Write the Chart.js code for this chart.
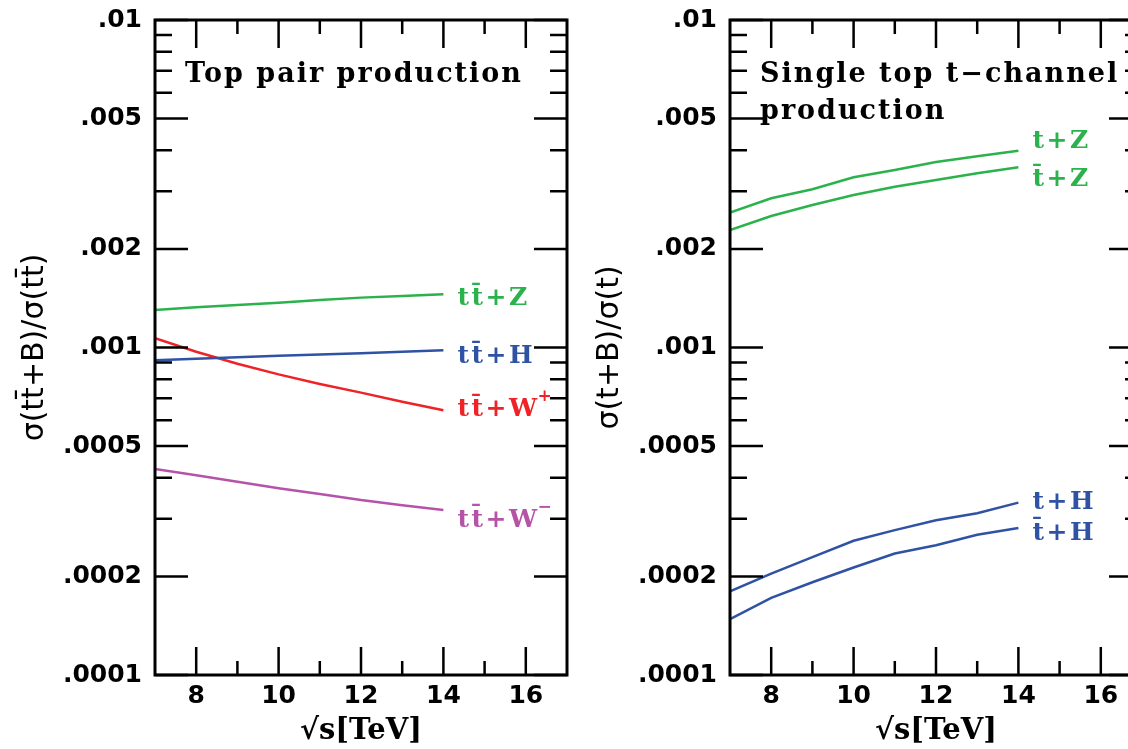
<!DOCTYPE html>
<html>
<head>
<meta charset="utf-8">
<script src="https://cdn.jsdelivr.net/npm/chart.js@4"></script>
<style>
  html, body { margin: 0; padding: 0; background: #fff; overflow: hidden; }
  #wrap { position: relative; width: 1128px; height: 749px; overflow: hidden; }
  canvas { position: absolute; top: 0; }
  #left { left: 0; }
  #right { left: 575px; }
</style>
</head>
<body>
<div id="wrap">
  <canvas id="left" width="600" height="749"></canvas>
  <canvas id="right" width="600" height="749"></canvas>
</div>
<script>
// sqrt(s) in TeV
const sqrtS = [7, 8, 9, 10, 11, 12, 13, 14];

// top pair production, sigma(tt+B)/sigma(tt)
const ttZ  = [0.001302, 0.001326, 0.001349, 0.001370, 0.001396, 0.001420, 0.001437, 0.001453];
const ttH  = [0.000914, 0.000924, 0.000933, 0.000943, 0.000952, 0.000961, 0.000970, 0.000980];
const ttWp = [0.001067, 0.000971, 0.000892, 0.000828, 0.000774, 0.000728, 0.000683, 0.000643];
const ttWm = [0.000426, 0.000407, 0.000389, 0.000372, 0.000357, 0.000342, 0.000330, 0.000319];

// single top t-channel, sigma(t+B)/sigma(t)
const tZ    = [0.002580, 0.002855, 0.003041, 0.003310, 0.003483, 0.003685, 0.003836, 0.003991];
const tbarZ = [0.002285, 0.002521, 0.002723, 0.002921, 0.003097, 0.003246, 0.003402, 0.003549];
const tH    = [0.000180, 0.000204, 0.000229, 0.000257, 0.000277, 0.000297, 0.000312, 0.000336];
const tbarH = [0.000148, 0.000172, 0.000192, 0.000213, 0.000235, 0.000249, 0.000268, 0.000281];

// axes
const yTickValues = [0.0001, 0.0002, 0.0005, 0.001, 0.002, 0.005, 0.01];
const yTickLabels = ['.0001', '.0002', '.0005', '.001', '.002', '.005', '.01'];
const yMinorTicks = [0.0003, 0.0004, 0.0006, 0.0007, 0.0008, 0.0009,
                     0.003, 0.004, 0.006, 0.007, 0.008, 0.009];
const xTickValues = [8, 10, 12, 14, 16];
const xTickLabels = ['8', '10', '12', '14', '16'];
const xMinorTicks = [9, 11, 13, 15];

const GREEN = '#2bb24c', BLUE = '#2f52a4', RED = '#ee2227', MAGENTA = '#b553a9';
const NOTE_FONT = '"DejaVu Serif"';

// frame with inward ticks on four sides, plus the text notes
const frame = {
  id: 'frame',
  afterDraw(chart, args, opts) {
    const { ctx, chartArea: a, scales: { x, y } } = chart;
    ctx.save();
    ctx.strokeStyle = '#000';
    ctx.lineWidth = 2.5;
    ctx.beginPath();
    yTickValues.concat(yMinorTicks).forEach(v => {
      const len = yTickValues.includes(v) ? 33 : 17;
      const py = y.getPixelForValue(v);
      ctx.moveTo(a.left, py); ctx.lineTo(a.left + len, py);
      ctx.moveTo(a.right, py); ctx.lineTo(a.right - len, py);
    });
    xTickValues.concat(xMinorTicks).forEach(v => {
      const len = xTickValues.includes(v) ? 28 : 14;
      const px = x.getPixelForValue(v);
      ctx.moveTo(px, a.bottom); ctx.lineTo(px, a.bottom - len);
      ctx.moveTo(px, a.top); ctx.lineTo(px, a.top + len);
    });
    ctx.stroke();
    ctx.lineWidth = 3;
    ctx.strokeRect(a.left, a.top, a.right - a.left, a.bottom - a.top);

    // panel title
    ctx.fillStyle = '#000';
    ctx.textBaseline = 'alphabetic';
    ctx.font = 'bold 27px ' + NOTE_FONT;
    ctx.letterSpacing = '2px';
    opts.title.forEach((line, i) => {
      ctx.fillText(line, a.left + 30, a.top + 62 + i * 37);
    });

    // curve labels at the end of each line
    const last = sqrtS.length - 1;
    opts.labels.forEach(l => {
      const ds = chart.data.datasets[l.series];
      const px = x.getPixelForValue(sqrtS[last]) + 14;
      const py = y.getPixelForValue(ds.data[last].y) + l.dy;
      ctx.fillStyle = ds.borderColor;
      ctx.font = 'bold 25px ' + NOTE_FONT;
      ctx.letterSpacing = '2.5px';
      ctx.fillText(l.text, px, py);
      if (l.sup) {
        const w = ctx.measureText(l.text).width;
        ctx.font = 'bold 17px ' + NOTE_FONT;
        ctx.letterSpacing = '0px';
        ctx.fillText(l.sup, px + w - 2, py - 15);
      }
    });
    ctx.restore();
  }
};

function makeChart(id, series, yTitle, notes) {
  return new Chart(document.getElementById(id), {
    type: 'line',
    data: {
      datasets: series.map(s => ({
        data: sqrtS.map((e, i) => ({ x: e, y: s.values[i] })),
        borderColor: s.color,
        borderWidth: 2.5,
        pointRadius: 0,
        tension: 0,
        fill: false
      }))
    },
    options: {
      responsive: false,
      animation: false,
      devicePixelRatio: 1,
      layout: { padding: { top: 20, right: 33, left: 0, bottom: 0 } },
      plugins: {
        legend: { display: false },
        tooltip: { enabled: false },
        frame: notes
      },
      scales: {
        x: {
          type: 'linear', min: 7, max: 17,
          grid: { display: false, drawTicks: false },
          border: { display: false },
          afterBuildTicks: sc => { sc.ticks = xTickValues.map(v => ({ value: v })); },
          afterFit: sc => { sc.height = 74; sc.paddingLeft = 0; sc.paddingRight = 0; },
          ticks: {
            autoSkip: false, maxRotation: 0, padding: 6, color: '#000',
            font: { family: 'DejaVu Sans', weight: 'bold', size: 25 },
            callback: (v, i) => xTickLabels[i]
          },
          title: {
            display: true, text: '√s[TeV]', color: '#000',
            font: { family: 'DejaVu Serif', weight: 'bold', size: 29 },
            padding: { top: 0, bottom: 0 }
          }
        },
        y: {
          type: 'logarithmic', min: 0.0001, max: 0.01,
          grid: { display: false, drawTicks: false },
          border: { display: false },
          afterBuildTicks: sc => { sc.ticks = yTickValues.map(v => ({ value: v })); },
          afterFit: sc => { sc.width = 155; sc.paddingTop = 0; sc.paddingBottom = 0; },
          ticks: {
            autoSkip: false, padding: 13, color: '#000',
            font: { family: 'DejaVu Sans', weight: 'bold', size: 25 },
            callback: (v, i) => yTickLabels[i]
          },
          title: {
            display: true, text: yTitle, color: '#000',
            font: { family: 'DejaVu Sans', size: 30 },
            padding: { top: 17, bottom: 0 }
          }
        }
      }
    },
    plugins: [frame]
  });
}

makeChart('left', [
  { values: ttZ, color: GREEN },
  { values: ttH, color: BLUE },
  { values: ttWp, color: RED },
  { values: ttWm, color: MAGENTA }
], 'σ(tt\u0304+B)/σ(tt\u0304)', {
  title: ['Top pair production'],
  labels: [
    { series: 0, text: 'tt\u0304+Z', dy: 11 },
    { series: 1, text: 'tt\u0304+H', dy: 13 },
    { series: 2, text: 'tt\u0304+W', sup: '+', dy: 6 },
    { series: 3, text: 'tt\u0304+W', sup: '−', dy: 17 }
  ]
});

makeChart('right', [
  { values: tZ, color: GREEN },
  { values: tbarZ, color: GREEN },
  { values: tH, color: BLUE },
  { values: tbarH, color: BLUE }
], 'σ(t+B)/σ(t)', {
  title: ['Single top t−channel', 'production'],
  labels: [
    { series: 0, text: 't+Z', dy: -3 },
    { series: 1, text: 't\u0304+Z', dy: 19 },
    { series: 2, text: 't+H', dy: 6 },
    { series: 3, text: 't\u0304+H', dy: 12 }
  ]
});
</script>
</body>
</html>
